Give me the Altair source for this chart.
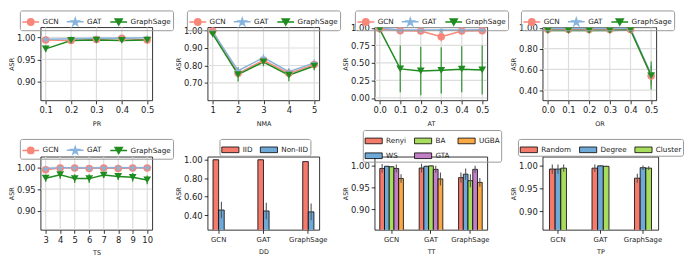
import altair as alt
import pandas as pd

FONT = "DejaVu Sans"
MODELS = ["GCN", "GAT", "GraphSage"]
LINE_COLORS = ["#f8877a", "#86b4de", "#1f8c1f"]

# ---------------- line panels data ----------------
pr_x = [0.1, 0.2, 0.3, 0.4, 0.5]
pr_gcn = [0.994, 0.993, 0.995, 0.998, 0.994]
pr_gcn_err = [0.003, 0.008, 0.003, 0.002, 0.004]
pr_gat = [0.996, 0.997, 0.998, 0.998, 0.999]
pr_gat_err = [0.002, 0.002, 0.002, 0.002, 0.001]
pr_sage = [0.974, 0.993, 0.994, 0.993, 0.994]
pr_sage_err = [0.008, 0.004, 0.003, 0.004, 0.004]

nma_x = [1, 2, 3, 4, 5]
nma_gcn = [0.997, 0.755, 0.830, 0.755, 0.805]
nma_gcn_err = [0.005, 0.02, 0.02, 0.02, 0.02]
nma_gat = [0.993, 0.770, 0.845, 0.765, 0.815]
nma_gat_err = [0.005, 0.02, 0.02, 0.02, 0.02]
nma_sage = [0.980, 0.748, 0.820, 0.745, 0.797]
nma_sage_err = [0.01, 0.04, 0.025, 0.035, 0.025]

at_x = [0.0, 0.1, 0.2, 0.3, 0.4, 0.5]
at_gcn = [0.99, 0.96, 0.955, 0.875, 0.955, 0.96]
at_gcn_err = [0.005, 0.03, 0.03, 0.07, 0.03, 0.03]
at_gat = [1.0, 0.97, 0.97, 0.97, 0.97, 0.975]
at_gat_err = [0.002, 0.01, 0.01, 0.01, 0.01, 0.01]
at_sage = [0.98, 0.415, 0.385, 0.395, 0.41, 0.40]
at_sage_err = [0.01, 0.335, 0.345, 0.33, 0.33, 0.35]

or_x = [0.0, 0.1, 0.2, 0.3, 0.4, 0.5]
or_gcn = [0.985, 0.985, 0.985, 0.985, 0.985, 0.535]
or_gcn_err = [0.008, 0.008, 0.008, 0.008, 0.008, 0.09]
or_gat = [0.995, 0.995, 0.995, 0.995, 0.995, 0.55]
or_gat_err = [0.004, 0.004, 0.004, 0.004, 0.004, 0.09]
or_sage = [0.975, 0.975, 0.975, 0.975, 0.98, 0.54]
or_sage_err = [0.01, 0.01, 0.01, 0.01, 0.01, 0.135]

ts_x = [3, 4, 5, 6, 7, 8, 9, 10]
ts_gcn = [0.994, 0.998, 0.998, 0.997, 0.998, 0.997, 0.998, 0.998]
ts_gcn_err = [0.003, 0.002, 0.002, 0.002, 0.002, 0.002, 0.002, 0.002]
ts_gat = [0.997, 0.999, 0.999, 0.998, 0.999, 0.999, 0.999, 0.999]
ts_gat_err = [0.002, 0.001, 0.001, 0.001, 0.001, 0.001, 0.001, 0.001]
ts_sage = [0.975, 0.983, 0.974, 0.974, 0.982, 0.979, 0.977, 0.971]
ts_sage_err = [0.008, 0.01, 0.01, 0.01, 0.006, 0.008, 0.01, 0.01]

# ---------------- bar panels data ----------------
dd_series = ["IID", "Non-IID"]
dd_iid = [1.0, 1.0, 0.98]
dd_iid_err = [0.002, 0.002, 0.005]
dd_non = [0.455, 0.445, 0.435]
dd_non_err = [0.09, 0.09, 0.09]
dd_colors = ["#f47a6b", "#6fa9d8"]

tt_series = ["Renyi", "WS", "BA", "GTA", "UGBA"]
tt_legend_order = ["Renyi", "BA", "UGBA", "WS", "GTA"]
tt_renyi = [0.994, 0.995, 0.973]
tt_renyi_err = [0.01, 0.01, 0.012]
tt_ws = [0.999, 0.999, 0.981]
tt_ws_err = [0.001, 0.001, 0.013]
tt_ba = [0.998, 1.000, 0.966]
tt_ba_err = [0.001, 0.001, 0.015]
tt_gta = [0.994, 0.992, 0.992]
tt_gta_err = [0.009, 0.008, 0.008]
tt_ugba = [0.971, 0.970, 0.962]
tt_ugba_err = [0.01, 0.015, 0.01]
tt_colors = {"Renyi": "#f47a6b", "WS": "#6fa9d8", "BA": "#a8dc5c", "GTA": "#c27fc8", "UGBA": "#f9a846"}

tp_series = ["Random", "Degree", "Cluster"]
tp_random = [0.993, 0.995, 0.973]
tp_random_err = [0.01, 0.008, 0.01]
tp_degree = [0.993, 1.000, 0.996]
tp_degree_err = [0.01, 0.001, 0.005]
tp_cluster = [0.995, 0.999, 0.995]
tp_cluster_err = [0.008, 0.001, 0.004]
tp_colors = ["#f47a6b", "#6fa9d8", "#a8dc5c"]

LEG_STROKE = "#999999"
GRID_COLOR = "#dddddd"


def star_path(s, dy=0.0):
    outer = [(0, -1), (0.9511, -0.309), (0.5878, 0.809), (-0.5878, 0.809), (-0.9511, -0.309)]
    inner = [(0.2245, -0.309), (0.3633, 0.118), (0, 0.382), (-0.3633, 0.118), (-0.2245, -0.309)]
    pts = []
    for o, i in zip(outer, inner):
        pts.append(o)
        pts.append(i)
    parts = [f"{px * s:.3f},{py * s + dy:.3f}" for px, py in pts]
    return "M" + "L".join(parts) + "Z"


def circle_path(r):
    return f"M{r:.3f},0A{r:.3f},{r:.3f},0,1,1,{-r:.3f},0A{r:.3f},{r:.3f},0,1,1,{r:.3f},0Z"


def tri_path(s):
    cy = -0.1
    pts = [(-0.47, -0.4), (0.47, -0.4), (0, 0.4)]
    parts = [f"{px * s:.3f},{cy + (py - cy) * s:.3f}" for px, py in pts]
    return "M" + "L".join(parts) + "Z"


SEG = "M-1,0L1,0"
LEG_PATHS = [
    SEG + circle_path(0.38) + circle_path(0.24) + circle_path(0.10),
    SEG + star_path(0.46, 0.05) + star_path(0.2, 0.03),
    SEG + tri_path(0.9) + tri_path(0.5) + tri_path(0.18),
]
PLOT_SHAPES = ["circle", star_path(1.0, 0.1), "triangle-down"]
PLOT_SIZES = [58, 62, 70]


def line_panel(xs, series, errs, xtitle, xdomain, xfmt, ydomain, yvals, w, h, lx, ly):
    rows = []
    for m, ys, es in zip(MODELS, series, errs):
        for x, y, e in zip(xs, ys, es):
            rows.append({"x": x, "model": m, "y": y, "lo": y - e, "hi": y + e})
    df = pd.DataFrame(rows)
    base = alt.Chart(df)
    xscale = alt.Scale(domain=xdomain, nice=False, zero=False)
    yscale = alt.Scale(domain=ydomain, nice=False, zero=False)
    xaxis = alt.Axis(values=xs, tickCount=30, format=xfmt, title=xtitle, grid=False,
                     labelFlush=False, labelOverlap=False, labelBound=False)
    yaxis = alt.Axis(values=yvals, tickCount=30, format=".2f", title="ASR", grid=False,
                     labelOverlap=False, labelBound=False, labelFlush=False)

    def X(f):
        return alt.X(f, type="quantitative", scale=xscale, axis=xaxis)

    def Y(f):
        return alt.Y(f, type="quantitative", scale=yscale, axis=yaxis)

    cscale = alt.Scale(domain=MODELS, range=LINE_COLORS)
    col_nolegend = alt.Color("model:N", scale=cscale, legend=None)
    gridx = alt.Chart(pd.DataFrame({"x": xs})).mark_rule(
        color=GRID_COLOR, strokeWidth=1.2, clip=True).encode(x=X("x"))
    gridy = alt.Chart(pd.DataFrame({"y": yvals})).mark_rule(
        color=GRID_COLOR, strokeWidth=1.2, clip=True).encode(y=Y("y"))
    err = base.mark_rule(strokeWidth=1.3, clip=True, opacity=0.85).encode(
        x=X("x"), y=Y("lo"), y2="hi:Q", color=col_nolegend)
    line = base.mark_line(strokeWidth=1.5, clip=True).encode(
        x=X("x"), y=Y("y"), color=col_nolegend, order="x:Q")
    pts = base.mark_point(filled=True, opacity=1, clip=True).encode(
        x=X("x"), y=Y("y"), color=col_nolegend,
        shape=alt.Shape("model:N", scale=alt.Scale(domain=MODELS, range=PLOT_SHAPES), legend=None),
        size=alt.Size("model:N", scale=alt.Scale(domain=MODELS, range=PLOT_SIZES), legend=None),
    )
    legend = alt.Legend(
        orient="none", legendX=lx, legendY=ly, direction="horizontal", columns=3, title=None,
        strokeColor=LEG_STROKE, fillColor="transparent", cornerRadius=2, padding=1.5,
        labelFont=FONT, labelFontSize=7.3, labelOffset=2.5, labelColor="#222", columnPadding=5,
        symbolSize=289, symbolStrokeWidth=1.5, symbolOpacity=1, symbolFillColor="transparent",
        zindex=0)
    leg = base.mark_point(filled=False, opacity=0, clip=True).encode(
        x=X("x"), y=Y("y"),
        color=alt.Color("model:N", scale=cscale, legend=legend),
        shape=alt.Shape("model:N", scale=alt.Scale(domain=MODELS, range=LEG_PATHS), legend=legend),
    )
    return alt.layer(gridx, gridy, err, line, pts, leg).resolve_scale(
        color="independent", shape="independent", size="independent"
    ).properties(width=w, height=h)


def bar_panel(series_names, values, errs, legend_order, legend_colors, xtitle, ydomain, yvals,
              pin, pout, w, h, lx, ly, cols):
    rows = []
    for s, vs, es in zip(series_names, values, errs):
        for c, v, e in zip(MODELS, vs, es):
            rows.append({"cat": c, "series": s, "value": v, "lo": v - e, "hi": v + e})
    df = pd.DataFrame(rows)
    base = alt.Chart(df)
    xenc = alt.X("cat:N", sort=MODELS, scale=alt.Scale(paddingInner=pin, paddingOuter=pout),
                 axis=alt.Axis(title=xtitle, labelAngle=0, grid=False, labelFontSize=7))
    xo = alt.XOffset("series:N", sort=series_names, scale=alt.Scale(paddingInner=0, paddingOuter=0))
    yenc = alt.Y("value:Q", scale=alt.Scale(domain=ydomain, nice=False, zero=False),
                 axis=alt.Axis(values=yvals, tickCount=30, format=".2f", title="ASR", grid=False,
                               labelOverlap=False))
    legend = alt.Legend(
        orient="none", legendX=lx, legendY=ly, direction="horizontal", columns=cols, title=None,
        strokeColor=LEG_STROKE, fillColor="transparent", cornerRadius=2, padding=1.5,
        labelFont=FONT, labelFontSize=7.3, labelOffset=3, labelColor="#222", columnPadding=6,
        rowPadding=1, symbolType="M-1,-0.33L1,-0.33L1,0.33L-1,0.33Z", symbolSize=300,
        symbolStrokeColor="black", symbolStrokeWidth=0.8, symbolOpacity=1, zindex=0)
    bars = base.mark_bar(stroke="black", strokeWidth=0.8, clip=True).encode(
        x=xenc, xOffset=xo, y=yenc,
        color=alt.Color("series:N", scale=alt.Scale(domain=legend_order, range=legend_colors), legend=legend))
    err = base.mark_rule(color="#555555", strokeWidth=1.1, clip=True).encode(
        x=alt.X("cat:N", sort=MODELS), xOffset=alt.XOffset("series:N", sort=series_names),
        y="lo:Q", y2="hi:Q")
    return alt.layer(bars, err).properties(width=w, height=h)


H = 74
LY = -17
p1 = line_panel(pr_x, [pr_gcn, pr_gat, pr_sage], [pr_gcn_err, pr_gat_err, pr_sage_err], "PR",
                [0.08, 0.52], ".1f", [0.857, 1.023], [0.90, 0.95, 1.00], 113, H, -21, LY)
p2 = line_panel(nma_x, [nma_gcn, nma_gat, nma_sage], [nma_gcn_err, nma_gat_err, nma_sage_err], "NMA",
                [0.8, 5.2], "d", [0.60, 1.019], [0.70, 0.80, 0.90, 1.00], 113, H, -21, LY)
p3 = line_panel(at_x, [at_gcn, at_gat, at_sage], [at_gcn_err, at_gat_err, at_sage_err], "AT",
                [-0.025, 0.525], ".1f", [-0.035, 1.01], [0.0, 0.25, 0.5, 0.75, 1.0], 114, H, -20, LY)
p4 = line_panel(or_x, [or_gcn, or_gat, or_sage], [or_gcn_err, or_gat_err, or_sage_err], "OR",
                [-0.025, 0.525], ".1f", [0.30, 1.007], [0.40, 0.60, 0.80, 1.00], 115, H, -22, LY)
p5 = line_panel(ts_x, [ts_gcn, ts_gat, ts_sage], [ts_gcn_err, ts_gat_err, ts_sage_err], "TS",
                [2.65, 10.35], "d", [0.857, 1.024], [0.90, 0.95, 1.00], 113, H, -21, -18)
p6 = bar_panel(dd_series, [dd_iid, dd_non], [dd_iid_err, dd_non_err], dd_series, dd_colors, "DD",
               [0.24, 1.033], [0.40, 0.60, 0.80, 1.00], 0.75, 0.12, 113, H, 12, -18, 2)
p7 = bar_panel(tt_series, [tt_renyi, tt_ws, tt_ba, tt_gta, tt_ugba],
               [tt_renyi_err, tt_ws_err, tt_ba_err, tt_gta_err, tt_ugba_err],
               tt_legend_order, [tt_colors[s] for s in tt_legend_order], "TT",
               [0.853, 1.021], [0.90, 0.95, 1.00], 0.4, 0.13, 114, H, -12, -27, 3)
p8 = bar_panel(tp_series, [tp_random, tp_degree, tp_cluster],
               [tp_random_err, tp_degree_err, tp_cluster_err], tp_series, tp_colors, "TP",
               [0.86, 1.02], [0.90, 0.95, 1.00], 0.6, 0.16, 117, H, -25, -18, 3)

chart = alt.concat(
    p1, p2, p3, p4, p5, p6, p7, p8, columns=4, spacing={"row": 57, "column": 56}, bounds="flush"
).resolve_scale(
    x="independent", y="independent", color="independent", shape="independent",
    size="independent", xOffset="independent"
).resolve_legend(
    color="independent", shape="independent"
).properties(
    padding={"left": 0, "top": 0, "right": 0, "bottom": 0}
).configure_view(
    stroke="black", strokeWidth=0.8
).configure_axis(
    labelFont=FONT, titleFont=FONT, labelFontSize=8.5, titleFontSize=6.5, titleFontWeight="normal",
    labelColor="#222222", titleColor="#222222", tickColor="black", tickSize=3.5, tickWidth=0.8,
    domain=False, labelPadding=2, titlePadding=6, zindex=1, labelOverlap=False
).configure_axisY(
    titlePadding=2
).configure_legend(
    labelFont=FONT
)

chart.save("out.html", embed_options={"renderer": "svg", "actions": False})
